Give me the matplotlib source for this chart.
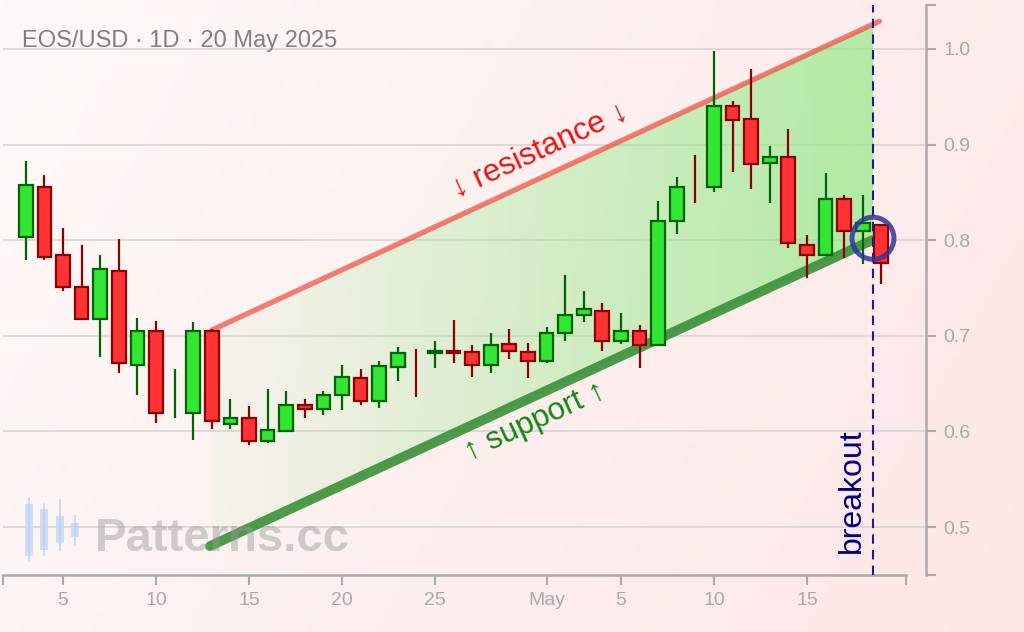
import matplotlib
matplotlib.use('Agg')
import matplotlib.pyplot as plt
import matplotlib.dates as mdates
from matplotlib.patches import Rectangle, Ellipse, Polygon
import numpy as np
import pandas as pd

plt.rcParams['font.family'] = ['Liberation Sans', 'DejaVu Sans']

# daily EOS/USD candles, 3 Apr - 19 May 2025
dates = pd.date_range('2025-04-03', '2025-05-19', freq='D')
opens = [0.803, 0.856, 0.785, 0.751, 0.718, 0.768, 0.669, 0.705, 0.630, 0.619,
         0.705, 0.608, 0.614, 0.590, 0.600, 0.628, 0.623, 0.638, 0.656, 0.632,
         0.667, 0.670, 0.682, 0.684, 0.683, 0.669, 0.691, 0.683, 0.674, 0.703,
         0.722, 0.726, 0.695, 0.705, 0.690, 0.820, 0.870, 0.856, 0.940, 0.927,
         0.881, 0.887, 0.795, 0.785, 0.843, 0.810, 0.816]
highs = [0.883, 0.868, 0.813, 0.795, 0.784, 0.801, 0.719, 0.715, 0.665, 0.714,
         0.707, 0.634, 0.627, 0.644, 0.642, 0.634, 0.642, 0.669, 0.665, 0.674,
         0.688, 0.686, 0.695, 0.717, 0.690, 0.703, 0.707, 0.692, 0.709, 0.764,
         0.747, 0.734, 0.724, 0.711, 0.841, 0.866, 0.889, 0.998, 0.946, 0.979,
         0.899, 0.916, 0.805, 0.870, 0.847, 0.847, 0.817]
lows = [0.779, 0.779, 0.747, 0.716, 0.678, 0.661, 0.638, 0.609, 0.614, 0.591,
        0.603, 0.603, 0.586, 0.588, 0.599, 0.614, 0.617, 0.622, 0.628, 0.624,
        0.653, 0.636, 0.666, 0.672, 0.657, 0.661, 0.676, 0.656, 0.672, 0.695,
        0.714, 0.684, 0.691, 0.666, 0.689, 0.806, 0.839, 0.850, 0.871, 0.854,
        0.839, 0.792, 0.760, 0.783, 0.781, 0.775, 0.754]
closes = [0.858, 0.782, 0.751, 0.718, 0.770, 0.672, 0.705, 0.619, 0.650, 0.705,
          0.611, 0.614, 0.590, 0.601, 0.628, 0.623, 0.638, 0.657, 0.632, 0.668,
          0.682, 0.650, 0.684, 0.682, 0.669, 0.690, 0.684, 0.674, 0.703, 0.722,
          0.728, 0.695, 0.705, 0.690, 0.820, 0.856, 0.855, 0.940, 0.926, 0.880,
          0.887, 0.797, 0.785, 0.843, 0.810, 0.818, 0.776]
# on these days only the wick shows in the chart
no_body = ['2025-04-11', '2025-04-24', '2025-05-09']

# channel lines (start, end)
res_dates = ['2025-04-13 00:00', '2025-05-18 21:36']
res_vals = [0.706, 1.029]
sup_dates = ['2025-04-12 21:36', '2025-05-18 12:00']
sup_vals = [0.480, 0.800]
breakout_date = '2025-05-18 13:12'
breakout_val = 0.802

xtick_dates = ['2025-04-05', '2025-04-10', '2025-04-15', '2025-04-20', '2025-04-25',
               '2025-05-01', '2025-05-05', '2025-05-10', '2025-05-15']
xtick_labels = ['5', '10', '15', '20', '25', 'May', '5', '10', '15']
yticks = [0.5, 0.6, 0.7, 0.8, 0.9, 1.0]

fig = plt.figure(figsize=(10.24, 6.32), dpi=100)

# pink background gradient
bg = fig.add_axes([0, 0, 1, 1], zorder=-5)
gx = np.linspace(0, 1, 256)
gy = np.linspace(0, 1, 64)
GX, GY = np.meshgrid(gx, gy)
t = np.clip(0.75 * GX + 0.25 * (1 - GY), 0, 1)
c0 = np.array([253, 249, 248]) / 255
c1 = np.array([253, 230, 230]) / 255
img = c0[None, None, :] * (1 - t[..., None]) + c1[None, None, :] * t[..., None]
bg.imshow(img, extent=[0, 1, 0, 1], aspect='auto', origin='lower')
bg.axis('off')

ax = fig.add_axes([3 / 1024, 57 / 632, 923 / 1024, 570 / 632])
ax.patch.set_alpha(0)

x = mdates.date2num(dates)
rx = mdates.date2num(pd.to_datetime(res_dates))
sx = mdates.date2num(pd.to_datetime(sup_dates))
bx = mdates.date2num(pd.Timestamp(breakout_date))

# channel fill with left-to-right gradient
fx = np.linspace(rx[0], bx, 50)
top = res_vals[0] + (fx - rx[0]) * (res_vals[1] - res_vals[0]) / (rx[1] - rx[0])
bot = sup_vals[0] + (fx - sx[0]) * (sup_vals[1] - sup_vals[0]) / (sx[1] - sx[0])
poly = Polygon(np.column_stack([np.r_[fx, fx[::-1]], np.r_[top, bot[::-1]]]),
               closed=True, facecolor='none', edgecolor='none')
ax.add_patch(poly)
grad = np.zeros((2, 256, 4))
grad[..., 0] = 0.5
grad[..., 1] = 0.92
grad[..., 2] = 0.46
grad[..., 3] = np.linspace(0.04, 0.6, 256)
im = ax.imshow(grad, extent=[fx[0], fx[-1], bot.min(), top.max()],
               aspect='auto', origin='lower', zorder=1)
im.set_clip_path(poly)

ax.plot(rx, res_vals, color='#f04a40', alpha=0.7, lw=3.8, solid_capstyle='round', zorder=2)
ax.plot(sx, sup_vals, color='#2e8b2e', alpha=0.85, lw=7, solid_capstyle='round', zorder=2)

# candles
skip = set(mdates.date2num(pd.to_datetime(no_body)))
for xi, o, h, l, c in zip(x, opens, highs, lows, closes):
    up = c >= o
    edge = '#006400' if up else '#8b0000'
    face = '#33e633' if up else '#ff3333'
    ax.vlines(xi, l, h, color=edge, lw=1.6, zorder=3)
    if xi in skip:
        continue
    ax.add_patch(Rectangle((xi - 0.37, min(o, c)), 0.74, max(abs(c - o), 0.001),
                           facecolor=face, edgecolor=edge, lw=1.6, zorder=4))

ax.axvline(bx, color='#1c1c8c', lw=1.5, linestyle=(0, (4.5, 3)), zorder=5)
ax.add_patch(Ellipse((bx, breakout_val), 2.25, 0.044, fill=False,
                     edgecolor='#33339a', alpha=0.85, lw=3.6, zorder=6))

ang = 24.8
ax.text(mdates.date2num(pd.Timestamp('2025-04-30 15:30')), 0.894, '↓ resistance ↓',
        color='#ee1111', fontsize=22.5, rotation=ang, ha='center', va='center',
        rotation_mode='anchor', zorder=6)
ax.text(mdates.date2num(pd.Timestamp('2025-04-30 09:00')), 0.610, '↑ support ↑',
        color='#118811', fontsize=22.5, rotation=ang, ha='center', va='center',
        rotation_mode='anchor', zorder=6)
ax.text(mdates.date2num(pd.Timestamp('2025-05-17 10:00')), 0.538, 'breakout',
        color='#000080', fontsize=23, rotation=90, ha='center', va='center', zorder=6)

# watermark
fig.text(95 / 1024, 1 - 551 / 632, 'Patterns.cc', fontsize=34, fontweight='bold',
         color='#999999', alpha=0.45, ha='left', va='baseline', zorder=0)
for cx, b0, b1, w0, w1 in [(29, 504, 556, 498, 561), (44, 509, 550, 504, 555),
                           (60, 516, 543, 500, 550), (75, 523, 537, 516, 545)]:
    fig.add_artist(plt.Line2D([cx / 1024, cx / 1024], [1 - w0 / 632, 1 - w1 / 632],
                              color='#b8cff5', lw=1.2, alpha=0.8))
    fig.add_artist(Rectangle(((cx - 4) / 1024, 1 - b1 / 632), 8 / 1024, (b1 - b0) / 632,
                             facecolor='#c4d8f8', edgecolor='none', alpha=0.8))

fig.text(22 / 1024, 1 - 41 / 632, 'EOS/USD · 1D · 20 May 2025', fontsize=17,
         color='#808080', ha='left', va='center')

# axes styling
x_left = mdates.date2num(pd.Timestamp('2025-04-01 18:35'))
x_right = mdates.date2num(pd.Timestamp('2025-05-21 09:36'))
x_end = mdates.date2num(pd.Timestamp('2025-05-20 07:40'))
ax.set_xlim(x_left, x_right)
ax.set_ylim(0.4498, 1.046)

ax.yaxis.tick_right()
ax.set_yticks(yticks)
ax.set_yticklabels([f'{v:.1f}' for v in yticks])
ax.set_yticks([0.4498, 1.046], minor=True)
ax.set_xticks(mdates.date2num(pd.to_datetime(xtick_dates)))
ax.set_xticklabels(xtick_labels)
ax.set_xticks([x_left, x_end], minor=True)
ax.tick_params(which='both', colors='#aaaaaa', length=7.5, width=1.5, labelsize=14,
               labelcolor='#aaaaaa', pad=5)
ax.grid(axis='y', color='#dcd6d6', lw=1.3, zorder=0)
ax.set_axisbelow(True)
for s in ['top', 'left']:
    ax.spines[s].set_visible(False)
for s in ['right', 'bottom']:
    ax.spines[s].set_color('#aaaaaa')
    ax.spines[s].set_linewidth(1.8)
ax.spines['bottom'].set_bounds(x_left, x_end)

fig.savefig('out.png', dpi=100)
